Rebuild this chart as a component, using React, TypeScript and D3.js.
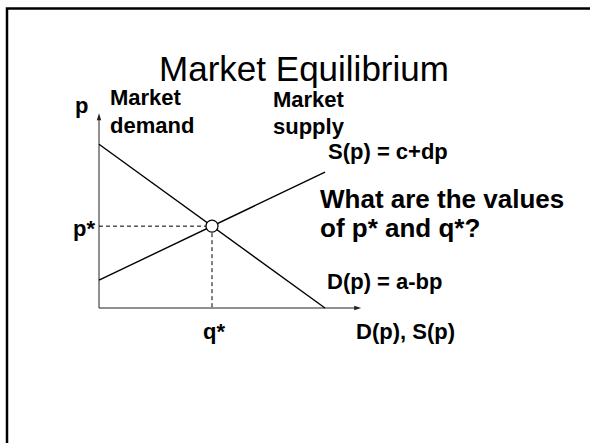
import React from "react";
import * as d3 from "d3";

// Data (abstract units)
const demandQ = [0, 10];
const demandP = [10, 0];
const supplyQ = [0, 10];
const supplyP = [1.7, 8.3];
const eqQ = 5;
const eqP = 5;
const axisMaxQ = 11.6;
const axisMaxP = 11.9;

const title = "Market Equilibrium";
const questionLines = ["What are the values", "of p* and q*?"];

const W = 590;
const H = 443;
const FONT = "'Liberation Sans', Arial, Helvetica, sans-serif";

export default function App() {
  const x = d3.scaleLinear().domain([0, 10]).range([99, 325]);
  const y = d3.scaleLinear().domain([0, 10]).range([308, 144.3]);
  const line = d3
    .line<[number, number]>()
    .x((d) => x(d[0]))
    .y((d) => y(d[1]));
  const demand = demandQ.map((q, i) => [q, demandP[i]] as [number, number]);
  const supply = supplyQ.map((q, i) => [q, supplyP[i]] as [number, number]);

  const x0 = x(0);
  const y0 = y(0);
  const xEnd = x(axisMaxQ);
  const yEnd = y(axisMaxP);

  const bold = { fontFamily: FONT, fontWeight: 700, fontSize: 22, fill: "#000" };

  return (
    <svg
      width={W}
      height={H}
      style={{ position: "absolute", left: 0, top: 0, display: "block", background: "#fff" }}
    >
      {/* slide frame */}
      <path d={`M7,${H} L7,8.5 L${W},8.5`} fill="none" stroke="#000" strokeWidth={2.5} />

      <text x={304} y={81} textAnchor="middle" style={{ fontFamily: FONT, fontSize: 35, fill: "#000" }}>
        {title}
      </text>

      {/* axes */}
      <line x1={x0} y1={y0} x2={x0} y2={yEnd + 4} stroke="#222" strokeWidth={1} />
      <line x1={x0} y1={y0} x2={xEnd - 4} y2={y0} stroke="#222" strokeWidth={1} />
      <path d={`M${x0},${yEnd} L${x0 - 2.2},${yEnd + 7} L${x0 + 2.2},${yEnd + 7} Z`} fill="#222" />
      <path d={`M${xEnd},${y0} L${xEnd - 7},${y0 - 2.2} L${xEnd - 7},${y0 + 2.2} Z`} fill="#222" />

      {/* dashed guides */}
      <line
        x1={x0}
        y1={y(eqP)}
        x2={x(eqQ)}
        y2={y(eqP)}
        stroke="#000"
        strokeWidth={1}
        strokeDasharray="4,3"
      />
      <line
        x1={x(eqQ)}
        y1={y(eqP)}
        x2={x(eqQ)}
        y2={y0}
        stroke="#000"
        strokeWidth={1}
        strokeDasharray="4,3"
      />

      {/* curves */}
      <path d={line(demand) || ""} fill="none" stroke="#000" strokeWidth={1.4} />
      <path d={line(supply) || ""} fill="none" stroke="#000" strokeWidth={1.4} />

      <circle cx={x(eqQ)} cy={y(eqP)} r={6} fill="#fff" stroke="#000" strokeWidth={1.2} />

      {/* labels */}
      <text x={75} y={113} style={bold}>p</text>
      <text x={110} y={105} style={bold}>Market</text>
      <text x={110} y={133} style={bold}>demand</text>
      <text x={273} y={107} style={bold}>Market</text>
      <text x={273} y={134} style={bold}>supply</text>
      <text x={328} y={159} style={bold}>S(p) = c+dp</text>
      <text x={320} y={208} style={{ ...bold, fontSize: 26 }}>{questionLines[0]}</text>
      <text x={320} y={237} style={{ ...bold, fontSize: 26 }}>{questionLines[1]}</text>
      <text x={327} y={289} style={bold}>D(p) = a-bp</text>
      <text x={73} y={236} style={bold}>p*</text>
      <text x={203} y={339} style={bold}>q*</text>
      <text x={356} y={339} style={bold}>D(p), S(p)</text>
    </svg>
  );
}
